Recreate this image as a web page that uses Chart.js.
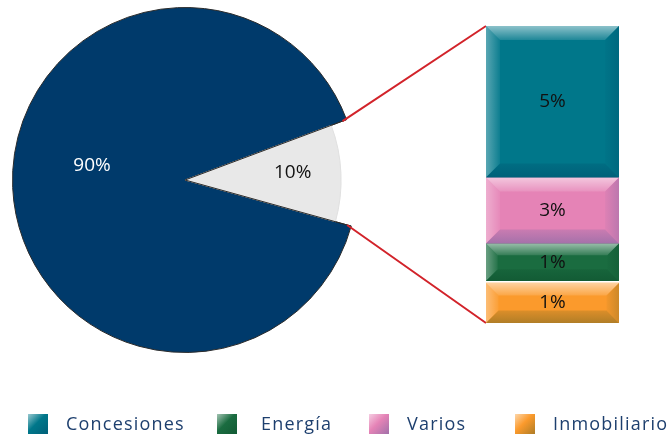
<!DOCTYPE html>
<html>
<head>
<meta charset="utf-8">
<script src="https://cdn.jsdelivr.net/npm/chart.js@4"></script>
<style>
  html, body { margin: 0; padding: 0; background: #fff; }
  #wrap { position: relative; width: 669px; height: 440px; }
  #pie { position: absolute; left: 0; top: 0; }
  #bar { position: absolute; left: 486px; top: 26px; }
</style>
</head>
<body>
<div id="wrap">
  <canvas id="pie" width="669" height="440"></canvas>
  <canvas id="bar" width="133" height="297"></canvas>
</div>
<script>
// pie: whole vs. breakdown slice
var pieValues = [90, 10];
var pieLabels = ['90%', '10%'];
var pieColors = ['#003a6b', '#e8e8e8'];

// breakdown of the 10% slice (legend order)
var categories = ['Concesiones', 'Energía', 'Varios', 'Inmobiliario'];
var barValues = [5.05, 1.25, 2.2, 1.4];
var barLabels = ['5%', '1%', '3%', '1%'];
var barColors = ['#00778a', '#1a6c40', '#e583b6', '#fb9a2c'];
var barShades = ['#005f78', '#125a34', '#a170a9', '#ad7c26'];

// stacking order, bottom to top
var stackOrder = [3, 1, 2, 0];

var FONT = '"Open Sans", "DejaVu Sans", sans-serif';

document.addEventListener('DOMContentLoaded', function () {

  function rgba(hex, a) {
    var n = parseInt(hex.slice(1), 16);
    return 'rgba(' + ((n >> 16) & 255) + ',' + ((n >> 8) & 255) + ',' + (n & 255) + ',' + a + ')';
  }

  // Soft bevel look on the stacked segments
  var bevelPlugin = {
    id: 'bevel',
    afterDatasetsDraw: function (chart) {
      var ctx = chart.ctx;
      chart.data.datasets.forEach(function (ds, i) {
        var el = chart.getDatasetMeta(i).data[0];
        var l = el.x - el.width / 2, r = el.x + el.width / 2;
        var t = Math.min(el.y, el.base), b = Math.max(el.y, el.base);
        if (ds.gapTop) t += ds.gapTop;
        var s = Math.min(14, (b - t) / 3.2);
        var gr;
        ctx.save();
        // top
        gr = ctx.createLinearGradient(0, t, 0, t + s);
        gr.addColorStop(0, 'rgba(255,255,255,0.55)');
        gr.addColorStop(1, 'rgba(255,255,255,0.12)');
        ctx.fillStyle = gr;
        ctx.beginPath(); ctx.moveTo(l, t); ctx.lineTo(r, t); ctx.lineTo(r - s, t + s); ctx.lineTo(l + s, t + s); ctx.fill();
        // left
        gr = ctx.createLinearGradient(l, 0, l + s, 0);
        gr.addColorStop(0, 'rgba(255,255,255,0.35)');
        gr.addColorStop(1, 'rgba(255,255,255,0.05)');
        ctx.fillStyle = gr;
        ctx.beginPath(); ctx.moveTo(l, t); ctx.lineTo(l + s, t + s); ctx.lineTo(l + s, b - s); ctx.lineTo(l, b); ctx.fill();
        // bottom
        gr = ctx.createLinearGradient(0, b - s, 0, b);
        gr.addColorStop(0, rgba(ds.shade, 0.4));
        gr.addColorStop(1, rgba(ds.shade, 0.95));
        ctx.fillStyle = gr;
        ctx.beginPath(); ctx.moveTo(l, b); ctx.lineTo(l + s, b - s); ctx.lineTo(r - s, b - s); ctx.lineTo(r, b); ctx.fill();
        // right
        gr = ctx.createLinearGradient(r - s, 0, r, 0);
        gr.addColorStop(0, rgba(ds.shade, 0.1));
        gr.addColorStop(1, rgba(ds.shade, 0.6));
        ctx.fillStyle = gr;
        ctx.beginPath(); ctx.moveTo(r, t); ctx.lineTo(r, b); ctx.lineTo(r - s, b - s); ctx.lineTo(r - s, t + s); ctx.fill();
        ctx.restore();
        // value label
        ctx.save();
        ctx.fillStyle = '#111';
        ctx.font = '19px ' + FONT;
        ctx.textAlign = 'center';
        ctx.textBaseline = 'middle';
        ctx.fillText(ds.valueLabel, el.x, (t + b) / 2);
        ctx.restore();
      });
    }
  };

  var barChart = new Chart(document.getElementById('bar'), {
    type: 'bar',
    data: {
      labels: [''],
      datasets: stackOrder.map(function (k, n) {
        return {
          label: categories[k],
          data: [barValues[k]],
          backgroundColor: barColors[k],
          borderColor: '#ffffff',
          borderWidth: n === 0 ? { top: 2, left: 0, right: 0, bottom: 0 } : 0,
          borderSkipped: false,
          gapTop: n === 0 ? 2 : 0,
          shade: barShades[k],
          valueLabel: barLabels[k],
          barPercentage: 1,
          categoryPercentage: 1
        };
      })
    },
    options: {
      responsive: false,
      animation: false,
      layout: { padding: 0 },
      plugins: { legend: { display: false }, tooltip: { enabled: false } },
      scales: {
        x: { stacked: true, display: false },
        y: { stacked: true, display: false, min: 0,
             max: barValues.reduce(function (a, v) { return a + v; }, 0) }
      }
    },
    plugins: [bevelPlugin]
  });

  // Smaller slice, labels, connector lines and legend
  var piePlugin = {
    id: 'pieExtras',
    beforeDatasetsDraw: function (chart) {
      var arcs = chart.getDatasetMeta(0).data;
      arcs[1].outerRadius = arcs[0].outerRadius * 0.905;
    },
    afterDatasetsDraw: function (chart) {
      var ctx = chart.ctx;
      var arcs = chart.getDatasetMeta(0).data;
      var cx = arcs[0].x, cy = arcs[0].y;
      var g = arcs[1];

      // radial edges of the small slice
      ctx.save();
      ctx.strokeStyle = '#2b2b2b';
      ctx.lineWidth = 1;
      ctx.beginPath();
      ctx.moveTo(cx + Math.cos(g.startAngle) * arcs[0].outerRadius, cy + Math.sin(g.startAngle) * arcs[0].outerRadius);
      ctx.lineTo(cx, cy);
      ctx.lineTo(cx + Math.cos(g.endAngle) * arcs[0].outerRadius, cy + Math.sin(g.endAngle) * arcs[0].outerRadius);
      ctx.stroke();
      ctx.restore();

      // labels
      ctx.save();
      ctx.font = '19px ' + FONT;
      ctx.textAlign = 'center';
      ctx.textBaseline = 'middle';
      ctx.fillStyle = '#ffffff';
      ctx.fillText(pieLabels[0], cx - 93, cy - 14);
      var mid = (g.startAngle + g.endAngle) / 2;
      ctx.fillStyle = '#111';
      ctx.fillText(pieLabels[1], cx + Math.cos(mid) * g.outerRadius * 0.69, cy + Math.sin(mid) * g.outerRadius * 0.69 - 3);
      ctx.restore();

      // connector lines to the stacked bar
      var bars = barChart.getDatasetMeta(barChart.data.datasets.length - 1).data[0];
      var first = barChart.getDatasetMeta(0).data[0];
      var off = barChart.canvas.getBoundingClientRect();
      var base = chart.canvas.getBoundingClientRect();
      var bx = off.left - base.left + bars.x - bars.width / 2;
      var topY = off.top - base.top + bars.y;
      var botY = off.top - base.top + first.base;
      var r = arcs[0].outerRadius * 0.975;
      ctx.save();
      ctx.strokeStyle = '#d2232a';
      ctx.lineWidth = 2;
      ctx.beginPath();
      ctx.moveTo(cx + Math.cos(g.startAngle) * r, cy + Math.sin(g.startAngle) * r);
      ctx.lineTo(bx, topY);
      ctx.moveTo(cx + Math.cos(g.endAngle) * r, cy + Math.sin(g.endAngle) * r);
      ctx.lineTo(bx, botY);
      ctx.stroke();
      ctx.restore();

      // legend
      var boxX = [28, 217, 369, 515];
      var textX = [66, 261, 407, 553];
      ctx.save();
      ctx.font = '18px ' + FONT;
      ctx.letterSpacing = '1.2px';
      ctx.textBaseline = 'middle';
      categories.forEach(function (name, i) {
        var x = boxX[i], y = 414;
        var grad = ctx.createLinearGradient(x, y, x + 20, y + 20);
        grad.addColorStop(0, lighten(barColors[i], 0.6));
        grad.addColorStop(0.45, barColors[i]);
        grad.addColorStop(1, barShades[i]);
        ctx.fillStyle = grad;
        ctx.fillRect(x, y, 20, 20);
        ctx.fillStyle = '#1d3f6e';
        ctx.fillText(name, textX[i], y + 11);
      });
      ctx.restore();
    }
  };

  function lighten(hex, f) {
    var n = parseInt(hex.slice(1), 16);
    var r = (n >> 16) & 255, g = (n >> 8) & 255, b = n & 255;
    return 'rgb(' + Math.round(r + (255 - r) * f) + ',' + Math.round(g + (255 - g) * f) + ',' + Math.round(b + (255 - b) * f) + ')';
  }

  new Chart(document.getElementById('pie'), {
    type: 'pie',
    data: {
      labels: ['Resto', 'Desglose'],
      datasets: [{
        data: pieValues,
        backgroundColor: pieColors,
        borderColor: ['#2b2b2b', '#e0e0e0'],
        borderWidth: 1
      }]
    },
    options: {
      responsive: false,
      animation: false,
      rotation: 105.5,
      layout: { padding: { left: 12, top: 7, right: 311, bottom: 87 } },
      plugins: { legend: { display: false }, tooltip: { enabled: false } }
    },
    plugins: [piePlugin]
  });
});
</script>
</body>
</html>
